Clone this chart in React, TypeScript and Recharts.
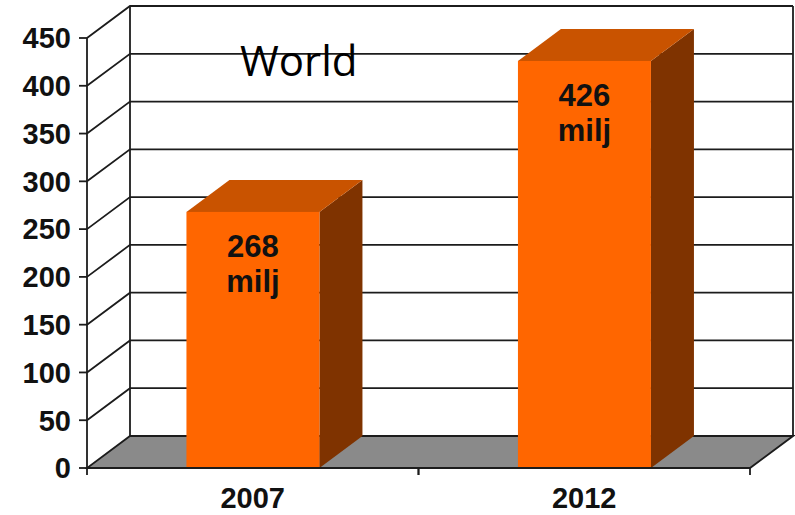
import { BarChart, Bar, XAxis, YAxis, CartesianGrid, LabelList } from 'recharts';

const years = ['2007', '2012'];
const users = [268, 426];
const unitLabel = 'milj';
const yTicks = [0, 50, 100, 150, 200, 250, 300, 350, 400, 450];
const title = 'World';

const data = years.map((year, i) => ({ year, value: users[i] }));

// layout
const W = 795;
const H = 515;
const MARGIN = { top: 38, right: 45, bottom: 17, left: 0 };
const X_AXIS_H = 30;
const PLOT_TOP = MARGIN.top;
const PLOT_BOTTOM = H - MARGIN.bottom - X_AXIS_H;
// 3D depth offset
const DX = 43;
const DY = 32;

const LINE = '#1c1c1c';
const FRONT = '#ff6600';
const TOP = '#c95300';
const SIDE = '#7f3300';
const FLOOR = '#8a8a8a';
const NUM_FONT = '"Liberation Sans", Arial, sans-serif';

// Each horizontal grid line becomes a side-wall diagonal + back-wall line.
const renderGridLine = (props: any) => {
  const { x1, y1, x2, y2 } = props;
  const isFloor = Math.abs(y1 - PLOT_BOTTOM) < 1;
  if (isFloor) {
    return (
      <g key={`grid-${y1}`}>
        <polygon
          points={`${x1},${y1} ${x2},${y2} ${x2 + DX},${y2 - DY} ${x1 + DX},${y1 - DY}`}
          fill={FLOOR}
          stroke={LINE}
          strokeWidth={1.8}
        />
        <line x1={x1 + DX} y1={y1 - DY} x2={x1 + DX} y2={PLOT_TOP - DY} stroke={LINE} strokeWidth={1.8} />
        <line x1={x2 + DX} y1={y2 - DY} x2={x2 + DX} y2={PLOT_TOP - DY} stroke={LINE} strokeWidth={1.8} />
      </g>
    );
  }
  return (
    <path
      key={`grid-${y1}`}
      d={`M${x1},${y1} L${x1 + DX},${y1 - DY} L${x2 + DX},${y2 - DY}`}
      fill="none"
      stroke={LINE}
      strokeWidth={1.8}
    />
  );
};

const Box3D = (props: any) => {
  const { x, y, width, height } = props;
  if (!height) return null;
  const r = x + width;
  const b = y + height;
  return (
    <g>
      <polygon points={`${r},${y} ${r + DX},${y - DY} ${r + DX},${b - DY} ${r},${b}`} fill={SIDE} />
      <polygon points={`${x},${y} ${x + DX},${y - DY} ${r + DX},${y - DY} ${r},${y}`} fill={TOP} />
      <rect x={x} y={y} width={width} height={height} fill={FRONT} />
    </g>
  );
};

const renderBarLabel = (props: any) => {
  const { x, y, width, value } = props;
  const cx = x + width / 2;
  return (
    <g>
      <text x={cx} y={y + 45} textAnchor="middle" fontFamily={NUM_FONT} fontWeight={700} fontSize={31} fill="#111">
        {value}
      </text>
      <text x={cx} y={y + 80} textAnchor="middle" fontFamily={NUM_FONT} fontWeight={700} fontSize={31} fill="#111">
        {unitLabel}
      </text>
    </g>
  );
};

const YearTick = (props: any) => {
  const { x, payload } = props;
  const half = payload?.offset ?? 165.75;
  return (
    <g>
      <line x1={x - half} y1={PLOT_BOTTOM} x2={x - half} y2={PLOT_BOTTOM + 7} stroke={LINE} strokeWidth={1.8} />
      <line x1={x + half} y1={PLOT_BOTTOM} x2={x + half} y2={PLOT_BOTTOM + 7} stroke={LINE} strokeWidth={1.8} />
      <text x={x} y={PLOT_BOTTOM + 40} textAnchor="middle" fontFamily={NUM_FONT} fontWeight={700} fontSize={29} fill="#111">
        {payload.value}
      </text>
    </g>
  );
};

export default function App() {
  return (
    <div style={{ position: 'absolute', left: 0, top: 0, width: W, height: H, background: '#fff' }}>
      <BarChart width={W} height={H} data={data} margin={MARGIN} barCategoryGap="30%">
        <CartesianGrid vertical={false} horizontal={renderGridLine} />
        <XAxis
          dataKey="year"
          height={X_AXIS_H}
          axisLine={{ stroke: LINE, strokeWidth: 1.8 }}
          tickLine={false}
          tick={<YearTick />}
          interval={0}
        />
        <YAxis
          width={87}
          domain={[0, 450]}
          ticks={yTicks}
          interval={0}
          axisLine={{ stroke: LINE, strokeWidth: 1.8 }}
          tickLine={{ stroke: LINE, strokeWidth: 1.8 }}
          tickSize={8}
          tickMargin={8}
          tick={{ fill: '#111', fontSize: 29, fontWeight: 700, fontFamily: NUM_FONT }}
        />
        <Bar dataKey="value" shape={<Box3D />} isAnimationActive={false}>
          <LabelList dataKey="value" content={renderBarLabel} />
        </Bar>
      </BarChart>
      <div
        style={{
          position: 'absolute',
          left: 240,
          top: 34,
          fontFamily: '"Open Sans", sans-serif',
          fontSize: 42,
          lineHeight: '52px',
          color: '#000',
          pointerEvents: 'none',
        }}
      >
        {title}
      </div>
    </div>
  );
}
